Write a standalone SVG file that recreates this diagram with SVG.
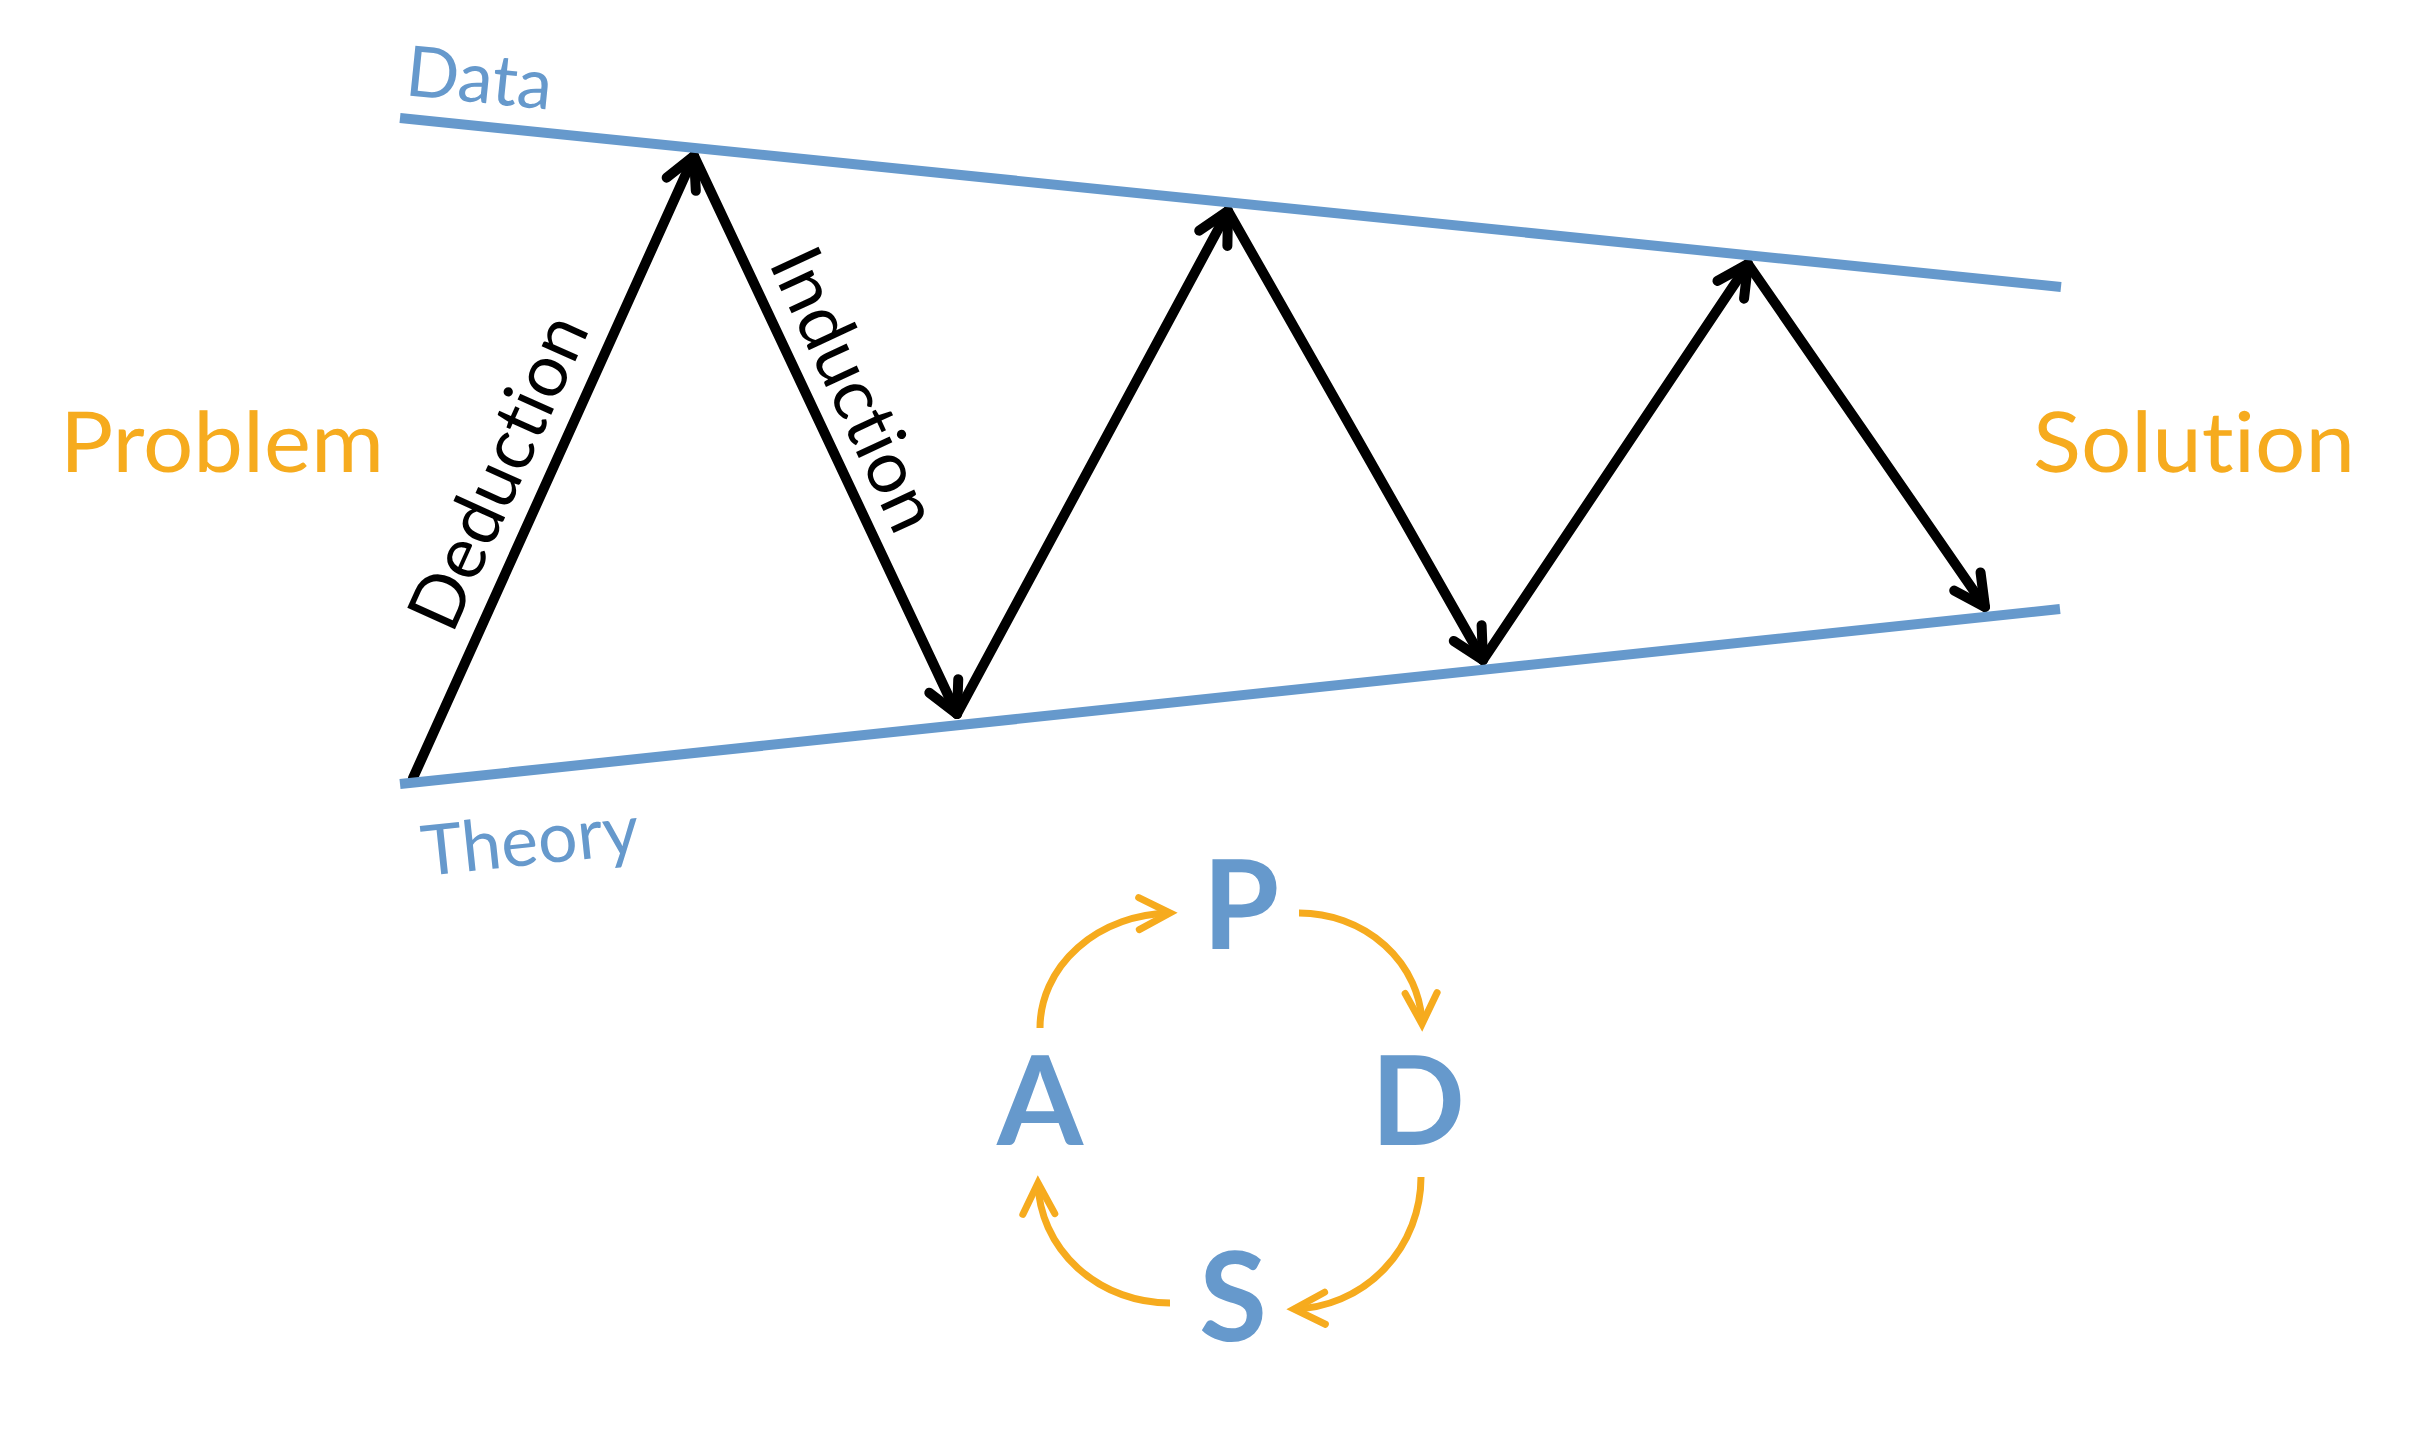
<svg xmlns="http://www.w3.org/2000/svg" width="2414" height="1454" viewBox="0 0 2414 1454">
<style>
text{text-rendering:geometricPrecision}
.nolig{font-variant-ligatures:none}
.bl{stroke:#6699CC;stroke-width:10;fill:none}
.bt{fill:#6699CC;font-family:Lato,"Open Sans",sans-serif;font-size:70px}
.ot{fill:#F6AB1E;font-family:Lato,"Open Sans",sans-serif;font-size:84px}
.lt{fill:#000;font-family:Lato,"Open Sans",sans-serif;font-size:73px}
.pd{fill:#6699CC;font-family:Lato,"Open Sans",sans-serif;font-size:124px;font-weight:700;text-anchor:middle}
.ar{stroke:#000;stroke-width:10;fill:none;stroke-linecap:round;stroke-linejoin:round}
.oa{stroke:#F6AB1E;stroke-width:7;fill:none;stroke-linecap:butt}
</style>
<defs>
<marker id="mb" markerUnits="userSpaceOnUse" orient="auto" markerWidth="60" markerHeight="60" refX="0" refY="0" viewBox="-40 -30 60 60" overflow="visible">
<path d="M-31,-16 L0,0 L-31,16" fill="none" stroke="#000" stroke-width="10" stroke-linecap="round" stroke-linejoin="round"/>
</marker>
<marker id="mo" markerUnits="userSpaceOnUse" orient="auto" markerWidth="60" markerHeight="60" refX="0" refY="0" viewBox="-40 -30 60 60" overflow="visible">
<path d="M-31,-16 L0,0 L-31,16" fill="none" stroke="#F6AB1E" stroke-width="7" stroke-linecap="round" stroke-linejoin="miter"/>
</marker>
</defs>
<rect width="2414" height="1454" fill="#fff"/>
<g id="connectors">
<line class="ar" x1="413" y1="778" x2="694" y2="156" marker-end="url(#mb)"/>
<line class="ar" x1="694" y1="156" x2="957" y2="714" marker-end="url(#mb)"/>
<line class="ar" x1="957" y1="714" x2="1228" y2="211" marker-end="url(#mb)"/>
<line class="ar" x1="1228" y1="211" x2="1483" y2="660" marker-end="url(#mb)"/>
<line class="ar" x1="1483" y1="660" x2="1748" y2="264" marker-end="url(#mb)"/>
<line class="ar" x1="1748" y1="264" x2="1985" y2="607" marker-end="url(#mb)"/>
<path class="oa" d="M1040,1028 A133,115 0 0 1 1170,913" marker-end="url(#mo)"/>
<path class="oa" d="M1299,913 A123,114 0 0 1 1422,1024" marker-end="url(#mo)"/>
<path class="oa" d="M1421,1177 A130,132 0 0 1 1294,1309" marker-end="url(#mo)"/>
<path class="oa" d="M1170,1303 A132,123 0 0 1 1038,1183" marker-end="url(#mo)"/>
</g>
<g id="data">
<line class="bl" x1="400" y1="118" x2="2061" y2="287"/>
<text class="bt" transform="translate(404,95) rotate(5.8)">Data</text>
</g>
<g id="theory">
<line class="bl" x1="400" y1="784" x2="2060" y2="609"/>
<text class="bt" transform="translate(424,876) rotate(-6)">Theory</text>
</g>
<g id="deduction">
<text class="lt nolig" text-anchor="middle" transform="translate(521,482) rotate(-65.8)">Deduction</text>
</g>
<g id="induction">
<text class="lt nolig" text-anchor="middle" transform="translate(832,400) rotate(65.1)">Induction</text>
</g>
<g id="problem"><text class="ot" x="60" y="472" textLength="324" lengthAdjust="spacingAndGlyphs">Problem</text></g>
<g id="solution"><text class="ot nolig" x="2033" y="472" textLength="322" lengthAdjust="spacingAndGlyphs">Solution</text></g>
<g id="node-p"><text class="pd" x="1241" y="949">P</text></g>
<g id="node-d"><text class="pd" x="1418" y="1145">D</text></g>
<g id="node-s"><text class="pd" x="1233" y="1341">S</text></g>
<g id="node-a"><text class="pd" x="1040" y="1145">A</text></g>
</svg>
